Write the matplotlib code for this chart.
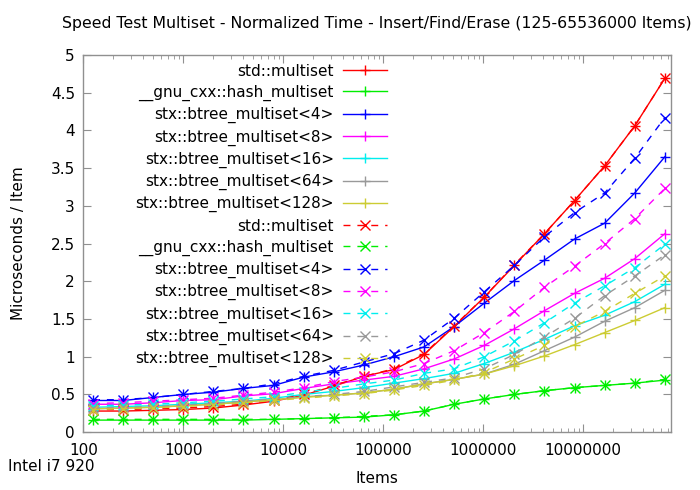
import matplotlib
matplotlib.use("Agg")
import matplotlib.pyplot as plt
from matplotlib.ticker import FixedLocator, FuncFormatter, LogLocator, NullFormatter

items = [125, 250, 500, 1000, 2000, 4000, 8000, 16000, 32000, 64000, 128000,
         256000, 512000, 1024000, 2048000, 4096000, 8192000, 16384000,
         32768000, 65536000]

labels = ["std::multiset", "__gnu_cxx::hash_multiset", "stx::btree_multiset<4>",
          "stx::btree_multiset<8>", "stx::btree_multiset<16>",
          "stx::btree_multiset<64>", "stx::btree_multiset<128>"]
colors = ["#ff0000", "#00ee00", "#0000ff", "#ff00ff", "#00eeee", "#999999", "#cccc33"]

# solid lines (+ markers)
std_solid = [0.28, 0.28, 0.29, 0.30, 0.32, 0.36, 0.41, 0.49, 0.61, 0.74, 0.83, 1.03, 1.40, 1.79, 2.21, 2.63, 3.07, 3.53, 4.06, 4.69]
hash_solid = [0.16, 0.16, 0.16, 0.16, 0.16, 0.16, 0.17, 0.18, 0.19, 0.20, 0.23, 0.28, 0.37, 0.44, 0.50, 0.55, 0.59, 0.62, 0.65, 0.69]
bt4_solid = [0.42, 0.42, 0.46, 0.50, 0.53, 0.58, 0.62, 0.73, 0.80, 0.89, 1.00, 1.13, 1.40, 1.71, 2.01, 2.28, 2.56, 2.77, 3.17, 3.65]
bt8_solid = [0.37, 0.37, 0.39, 0.42, 0.43, 0.48, 0.51, 0.58, 0.64, 0.69, 0.74, 0.84, 0.97, 1.15, 1.37, 1.61, 1.84, 2.04, 2.30, 2.63]
bt16_solid = [0.33, 0.34, 0.35, 0.37, 0.39, 0.41, 0.45, 0.50, 0.54, 0.59, 0.65, 0.71, 0.78, 0.91, 1.06, 1.23, 1.41, 1.55, 1.73, 1.96]
bt64_solid = [0.31, 0.32, 0.33, 0.35, 0.37, 0.40, 0.43, 0.47, 0.49, 0.52, 0.57, 0.64, 0.70, 0.77, 0.90, 1.08, 1.26, 1.47, 1.65, 1.88]
bt128_solid = [0.31, 0.32, 0.33, 0.35, 0.37, 0.40, 0.43, 0.46, 0.49, 0.52, 0.57, 0.64, 0.70, 0.77, 0.88, 1.01, 1.16, 1.32, 1.48, 1.65]

# dashed lines (x markers)
std_dash = [0.30, 0.30, 0.31, 0.32, 0.34, 0.37, 0.42, 0.50, 0.62, 0.74, 0.84, 1.04, 1.41, 1.79, 2.22, 2.63, 3.07, 3.53, 4.06, 4.69]
hash_dash = [0.17, 0.17, 0.17, 0.17, 0.17, 0.17, 0.17, 0.18, 0.19, 0.21, 0.23, 0.28, 0.37, 0.44, 0.50, 0.55, 0.59, 0.62, 0.65, 0.70]
bt4_dash = [0.43, 0.43, 0.46, 0.50, 0.54, 0.58, 0.64, 0.74, 0.82, 0.93, 1.04, 1.22, 1.51, 1.86, 2.21, 2.59, 2.91, 3.17, 3.63, 4.17]
bt8_dash = [0.38, 0.39, 0.41, 0.43, 0.45, 0.49, 0.53, 0.59, 0.67, 0.73, 0.80, 0.91, 1.08, 1.32, 1.60, 1.92, 2.20, 2.50, 2.83, 3.23]
bt16_dash = [0.35, 0.36, 0.37, 0.39, 0.41, 0.44, 0.47, 0.53, 0.58, 0.64, 0.69, 0.78, 0.84, 1.00, 1.21, 1.45, 1.71, 1.94, 2.18, 2.49]
bt64_dash = [0.32, 0.33, 0.34, 0.36, 0.38, 0.41, 0.44, 0.47, 0.50, 0.54, 0.60, 0.66, 0.72, 0.84, 1.03, 1.26, 1.51, 1.81, 2.07, 2.35]
bt128_dash = [0.30, 0.31, 0.32, 0.34, 0.36, 0.39, 0.42, 0.45, 0.48, 0.51, 0.56, 0.62, 0.69, 0.79, 0.97, 1.15, 1.40, 1.60, 1.84, 2.07]

solid_series = [std_solid, hash_solid, bt4_solid, bt8_solid, bt16_solid, bt64_solid, bt128_solid]
dash_series = [std_dash, hash_dash, bt4_dash, bt8_dash, bt16_dash, bt64_dash, bt128_dash]

xticks = [100, 1000, 10000, 100000, 1000000, 10000000]
yticks = [0, 0.5, 1, 1.5, 2, 2.5, 3, 3.5, 4, 4.5, 5]

plt.rcParams['font.family'] = ['DejaVu Sans']
fig = plt.figure(figsize=(7, 4.9), dpi=100)
ax = fig.add_axes([0.119, 0.118, 0.840, 0.770])

handles = []
leg_labels = []
for lab, col, ys in zip(labels, colors, solid_series):
    h, = ax.plot(items, ys, color=col, lw=1.0, marker='+', ms=7, mew=1.0)
    handles.append(h)
    leg_labels.append(lab)
for lab, col, ys in zip(labels, colors, dash_series):
    h, = ax.plot(items, ys, color=col, lw=1.0, ls=(0, (5, 5)), marker='x', ms=7, mew=1.0)
    handles.append(h)
    leg_labels.append(lab)

ax.set_xscale('log')
ax.set_xlim(100, 7.6e7)
ax.set_ylim(0, 5)
ax.xaxis.set_major_locator(FixedLocator(xticks))
ax.xaxis.set_major_formatter(FuncFormatter(lambda v, p: "%d" % round(v)))
ax.xaxis.set_minor_locator(LogLocator(base=10, subs=range(2, 10), numticks=20))
ax.xaxis.set_minor_formatter(NullFormatter())
ax.yaxis.set_major_locator(FixedLocator(yticks))
ax.yaxis.set_major_formatter(FuncFormatter(lambda v, p: "%g" % v))

for s in ax.spines.values():
    s.set_color('#909090')
    s.set_linewidth(1.0)
ax.tick_params(which='both', direction='in', top=True, right=True, color='#909090',
               labelsize=11, labelcolor='black')
ax.tick_params(which='major', length=6)
ax.tick_params(which='minor', length=3)
ax.tick_params(axis='x', pad=8)
ax.tick_params(axis='y', pad=6)

ax.set_title("Speed Test Multiset - Normalized Time - Insert/Find/Erase (125-65536000 Items)",
             fontsize=11.3, pad=19)
ax.set_xlabel("Items", fontsize=11, labelpad=9)
ax.set_ylabel("Microseconds / Item", fontsize=11)
ax.yaxis.set_label_coords(-0.097, 0.5)
fig.text(0.012, 0.032, "Intel i7 920", fontsize=11, ha='left', va='bottom')

leg = ax.legend(handles, leg_labels, loc='upper right', bbox_to_anchor=(0.517, 0.977),
                markerfirst=False, frameon=False, fontsize=11, handlelength=2.9,
                handletextpad=0.6, labelspacing=0.40, borderpad=0.0, borderaxespad=0.0)

fig.savefig("out.png", dpi=100)
